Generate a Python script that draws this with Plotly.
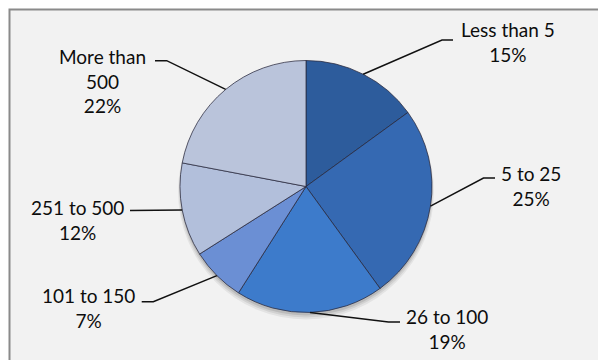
import math
import plotly.graph_objects as go

# ---- data ----
categories = ["Less than 5", "5 to 25", "26 to 100", "101 to 150", "251 to 500", "More than 500"]
label_text = ["Less than 5", "5 to 25", "26 to 100", "101 to 150", "251 to 500", "More than<br>500"]
shares = [15, 25, 19, 7, 12, 22]
colors = ["#2d5c9c", "#3569b2", "#3d7bcb", "#6b8fd4", "#b2bfdb", "#bac4db"]

# ---- layout (pixels) ----
W, H = 598, 360
CX, CY, R = 306, 186.5, 126
# label block centres and leader-line elbows (pixel coords, y down)
label_pos = [(508, 42), (531, 185.5), (447, 329), (88, 308), (77.5, 219.7), (102.5, 80.7)]
elbows = [[(453, 40), (442, 40)],
          [(495, 178), (483.5, 178)],
          [(400, 322), (388.5, 322)],
          [(141.7, 301.7), (153.3, 301.7)],
          [(130, 210.5)],
          [(155, 60.7), (166.7, 60.7)]]

FONT = "Lato"


def dom(cx, cy, r):
    return dict(x=[(cx - r) / W, (cx + r) / W], y=[(H - cy - r) / H, (H - cy + r) / H])


total = sum(shares)
fig = go.Figure()

# soft drop shadow under the pie
for dy, dr, op in [(5, 2, 0.06), (4, 1, 0.08), (3, 0, 0.10)]:
    fig.add_trace(go.Pie(
        values=[total], sort=False, textinfo="none", hoverinfo="skip",
        marker=dict(colors=[f"rgba(0,0,0,{op})"], line=dict(width=0)),
        domain=dom(CX, CY + dy, R + dr), showlegend=False,
    ))

fig.add_trace(go.Pie(
    labels=categories,
    values=shares,
    sort=False,
    direction="clockwise",
    rotation=0,
    textinfo="none",
    hoverinfo="label+percent",
    marker=dict(colors=colors, line=dict(color="rgba(40,40,60,0.75)", width=1)),
    domain=dom(CX, CY, R),
    showlegend=False,
))

# leader lines from the slice mid-angle on the rim
cum = 0
shapes = []
annotations = []
for i, v in enumerate(shares):
    mid = (cum + v / 2) / total
    cum += v
    th = 2 * math.pi * mid
    ex, ey = CX + R * math.sin(th), CY - R * math.cos(th)
    pts = elbows[i] + [(ex, ey)]
    path = "M " + " L ".join(f"{x:.2f},{y:.2f}" for x, y in pts)
    shapes.append(dict(type="path", path=path, xref="x", yref="y",
                       line=dict(color="#111111", width=1.5)))
    pct = round(100 * v / total)
    lx, ly = label_pos[i]
    annotations.append(dict(x=lx, y=ly, xref="x", yref="y",
                            text=f"{label_text[i]}<br>{pct}%",
                            showarrow=False, xanchor="center", yanchor="middle",
                            align="center",
                            font=dict(family=FONT, size=19, color="#0d0d0d")))

# chart area border
shapes.insert(0, dict(type="rect", xref="x", yref="y", x0=9.5, y0=9.5, x1=W + 20, y1=H + 20,
                      line=dict(color="#8a8a8a", width=2), fillcolor="#f2f2f2", layer="below"))

fig.update_layout(
    width=W, height=H,
    margin=dict(l=0, r=0, t=0, b=0),
    paper_bgcolor="white",
    plot_bgcolor="rgba(0,0,0,0)",
    xaxis=dict(range=[0, W], visible=False, fixedrange=True),
    yaxis=dict(range=[H, 0], visible=False, fixedrange=True),
    shapes=shapes,
    annotations=annotations,
)

fig.write_html("out.html")
